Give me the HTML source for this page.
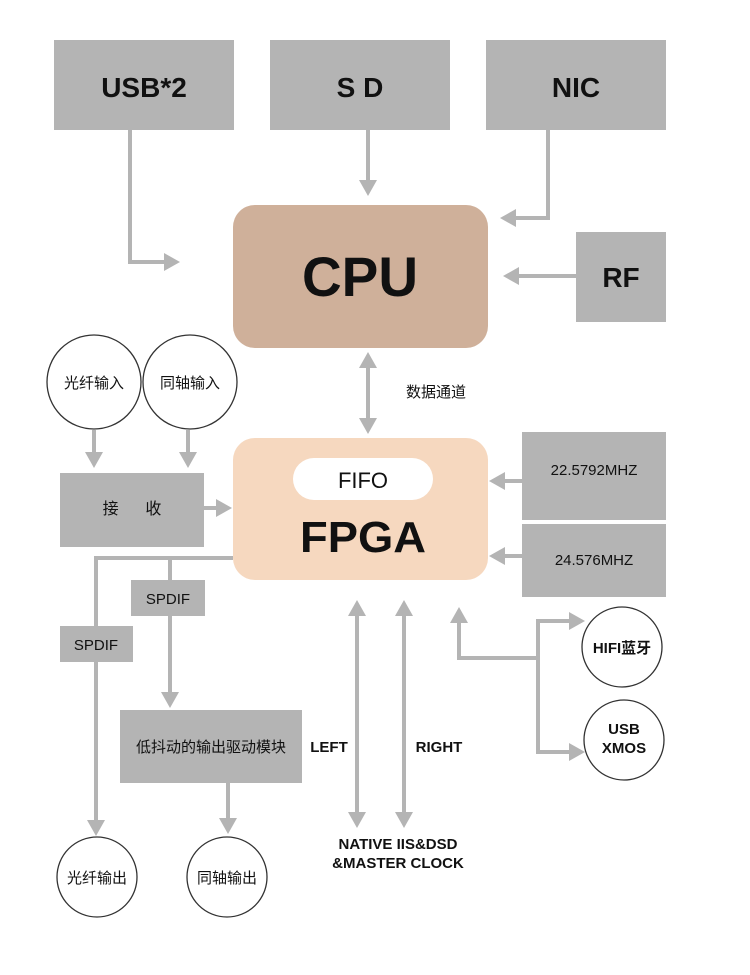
<!DOCTYPE html>
<html><head><meta charset="utf-8"><style>
html,body{margin:0;padding:0;background:#fff;}
svg{display:block;}
text{font-family:"Liberation Sans","Noto Sans CJK SC",sans-serif;}
.b{font-weight:bold;}
</style></head><body>
<svg width="750" height="975" viewBox="0 0 750 975" xmlns="http://www.w3.org/2000/svg">
<g fill="#b4b4b4">
<rect x="54" y="40" width="180" height="90"/>
<rect x="270" y="40" width="180" height="90"/>
<rect x="486" y="40" width="180" height="90"/>
<rect x="576" y="232" width="90" height="90"/>
<rect x="522" y="432" width="144" height="88"/>
<rect x="522" y="524" width="144" height="73"/>
<rect x="60" y="473" width="144" height="74"/>
<rect x="131" y="580" width="74" height="36"/>
<rect x="60" y="626" width="73" height="36"/>
<rect x="120" y="710" width="182" height="73"/>
</g>
<rect x="233" y="205" width="255" height="143" rx="22" fill="#cfb09a"/>
<rect x="233" y="438" width="255" height="142" rx="22" fill="#f6d8bf"/>
<rect x="293" y="458" width="140" height="42" rx="21" fill="#fff"/>
<g fill="none" stroke="#b4b4b4" stroke-width="4">
<polyline points="130,130 130,262 166,262"/>
<line x1="368" y1="130" x2="368" y2="182"/>
<polyline points="548,130 548,218 514,218"/>
<line x1="576" y1="276" x2="516" y2="276"/>
<line x1="368" y1="366" x2="368" y2="420"/>
<line x1="522" y1="481" x2="503" y2="481"/>
<line x1="522" y1="556" x2="503" y2="556"/>
<line x1="94" y1="430" x2="94" y2="454"/>
<line x1="188" y1="430" x2="188" y2="454"/>
<line x1="204" y1="508" x2="218" y2="508"/>
<polyline points="233,558 96,558 96,822"/>
<polyline points="170,558 170,694"/>
<line x1="228" y1="783" x2="228" y2="820"/>
<line x1="357" y1="614" x2="357" y2="814"/>
<line x1="404" y1="614" x2="404" y2="814"/>
<polyline points="459,622 459,658 538,658"/>
<polyline points="570,621 538,621 538,752 570,752"/>
</g>
<g fill="#b4b4b4">
<polygon points="180,262 164,253 164,271"/>
<polygon points="368,196 359,180 377,180"/>
<polygon points="500,218 516,209 516,227"/>
<polygon points="503,276 519,267 519,285"/>
<polygon points="368,352 359,368 377,368"/>
<polygon points="368,434 359,418 377,418"/>
<polygon points="489,481 505,472 505,490"/>
<polygon points="489,556 505,547 505,565"/>
<polygon points="94,468 85,452 103,452"/>
<polygon points="188,468 179,452 197,452"/>
<polygon points="232,508 216,499 216,517"/>
<polygon points="96,836 87,820 105,820"/>
<polygon points="170,708 161,692 179,692"/>
<polygon points="228,834 219,818 237,818"/>
<polygon points="357,600 348,616 366,616"/>
<polygon points="357,828 348,812 366,812"/>
<polygon points="404,600 395,616 413,616"/>
<polygon points="404,828 395,812 413,812"/>
<polygon points="459,607 450,623 468,623"/>
<polygon points="585,621 569,612 569,630"/>
<polygon points="585,752 569,743 569,761"/>
</g>
<g fill="#fff" stroke="#333" stroke-width="1.3">
<circle cx="94" cy="382" r="47"/>
<circle cx="190" cy="382" r="47"/>
<circle cx="97" cy="877" r="40"/>
<circle cx="227" cy="877" r="40"/>
<circle cx="622" cy="647" r="40"/>
<circle cx="624" cy="740" r="40"/>
</g>
<g fill="#111" text-anchor="middle">
<text x="144" y="97" font-size="28" class="b">USB*2</text>
<text x="360" y="97" font-size="28" class="b">S D</text>
<text x="576" y="97" font-size="28" class="b">NIC</text>
<text x="621" y="287" font-size="28" class="b">RF</text>
<text x="360" y="296" font-size="56" class="b" textLength="116" lengthAdjust="spacingAndGlyphs">CPU</text>
<text x="363" y="488" font-size="22">FIFO</text>
<text x="363" y="552" font-size="44" class="b" textLength="126" lengthAdjust="spacingAndGlyphs">FPGA</text>
<text x="436" y="397" font-size="15">数据通道</text>
<text x="594" y="475" font-size="15">22.5792MHZ</text>
<text x="594" y="565" font-size="15">24.576MHZ</text>
<text x="94" y="388" font-size="15">光纤输入</text>
<text x="190" y="388" font-size="15">同轴输入</text>
<text x="132" y="514" font-size="16" xml:space="preserve">接      收</text>
<text x="168" y="604" font-size="15">SPDIF</text>
<text x="96" y="650" font-size="15">SPDIF</text>
<text x="211" y="752" font-size="15">低抖动的输出驱动模块</text>
<text x="97" y="883" font-size="15">光纤输出</text>
<text x="227" y="883" font-size="15">同轴输出</text>
<text x="329" y="752" font-size="15" class="b">LEFT</text>
<text x="439" y="752" font-size="15" class="b">RIGHT</text>
<text x="398" y="849" font-size="15" class="b">NATIVE IIS&amp;DSD</text>
<text x="398" y="868" font-size="15" class="b">&amp;MASTER CLOCK</text>
<text x="622" y="653" font-size="15" class="b">HIFI蓝牙</text>
<text x="624" y="734" font-size="15" class="b">USB</text>
<text x="624" y="753" font-size="15" class="b">XMOS</text>
</g>
</svg>
</body></html>
